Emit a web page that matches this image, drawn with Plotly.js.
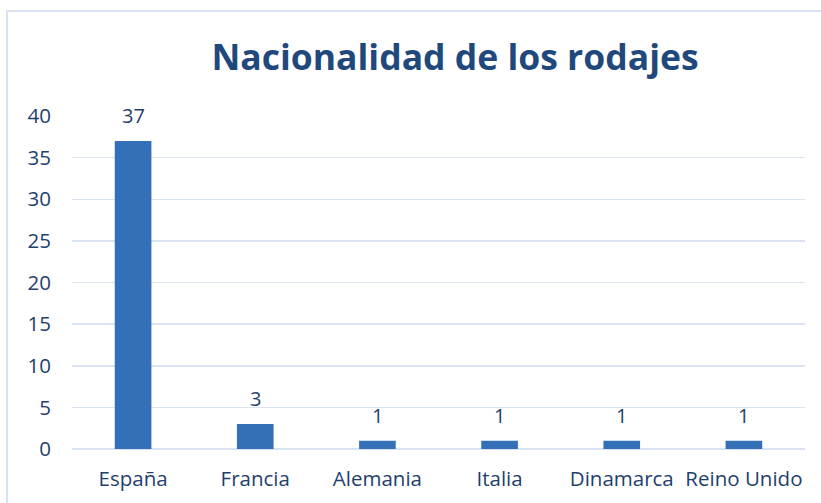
<!DOCTYPE html>
<html><head><meta charset="utf-8">
<script src="https://cdn.plot.ly/plotly-3.0.1.min.js"></script>
<style>html,body{margin:0;padding:0;background:#fff;}#chart{width:821px;height:503px;}</style>
</head><body><div id="chart"></div>
<script>
const categories = ["España", "Francia", "Alemania", "Italia", "Dinamarca", "Reino Unido"];
const values = [37, 3, 1, 1, 1, 1];
const yTicks = [0, 5, 10, 15, 20, 25, 30, 35, 40];
const titleText = "Nacionalidad de los rodajes";

const fontFam = "'Open Sans', Lato, sans-serif";
const labelColor = "#1F3F6E";
const trace = {
  type: "bar",
  x: categories,
  y: values,
  marker: {color: "#3470B8", line: {width: 0}},
  hoverinfo: "none"
};
const annotations = categories.map((c, i) => ({
  x: c, y: values[i], xref: "x", yref: "y", text: String(values[i]),
  showarrow: false, yanchor: "bottom", yshift: 10,
  font: {family: fontFam, size: 20, color: labelColor}
}));
const layout = {
  width: 821, height: 503,
  margin: {l: 72, r: 16, t: 116, b: 54},
  paper_bgcolor: "#fff", plot_bgcolor: "#fff",
  bargap: 0.7,
  showlegend: false,
  title: {text: "<b>" + titleText + "</b>", font: {family: fontFam, size: 35.5, color: "#1F497D"},
          x: 0.5225, xref: "paper", xanchor: "center", y: 0.885, yref: "container", yanchor: "middle"},
  xaxis: {showgrid: false, showline: false, zeroline: false, ticks: "", ticklabelstandoff: 15,
          tickfont: {family: fontFam, size: 20.5, color: labelColor}, fixedrange: true},
  yaxis: {range: [0, 40], tickvals: yTicks, showgrid: true, gridcolor: "#D9E3F1", gridwidth: 1.5,
          zeroline: true, zerolinecolor: "#D9E3F1", zerolinewidth: 1.5, showline: false, ticks: "",
          ticklabelstandoff: 20, tickfont: {family: fontFam, size: 20.5, color: labelColor}, fixedrange: true},
  annotations: annotations,
  shapes: [{type: "rect", xref: "paper", yref: "paper", x0: -0.0887, x1: 1.05, y0: -0.3, y1: 1.315,
            line: {color: "#D9E3F1", width: 2}, fillcolor: "rgba(0,0,0,0)", layer: "below"}]
};
Plotly.newPlot("chart", [trace], layout, {displayModeBar: false, staticPlot: true});
</script></body></html>
